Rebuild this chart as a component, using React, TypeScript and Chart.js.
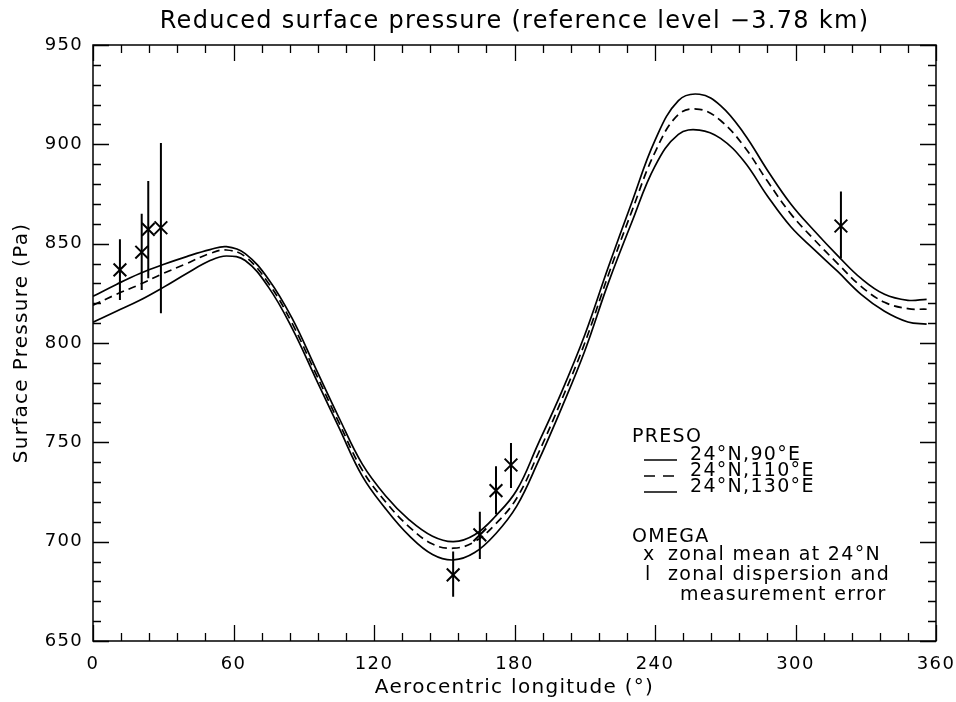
import React, { useEffect, useRef } from "react";
import { Chart, registerables } from "chart.js";

Chart.register(...registerables);

// ---------- text ----------
const TITLE = "Reduced surface pressure (reference level −3.78 km)";
const X_TITLE = "Aerocentric longitude (°)";
const Y_TITLE = "Surface Pressure (Pa)";
const LEGEND_PRESO_HEAD = "PRESO";
const LEGEND_PRESO = ["24°N,90°E", "24°N,110°E", "24°N,130°E"];
const LEGEND_OMEGA_HEAD = "OMEGA";
const LEGEND_OMEGA = ["zonal mean at 24°N", "zonal dispersion and", "measurement error"];

// ---------- axes ----------
const X_MIN = 0;
const X_MAX = 360;
const X_MAJOR = 60;
const X_MINOR = 12;
const Y_MIN = 650;
const Y_MAX = 950;
const Y_MAJOR = 50;
const Y_MINOR = 10;

// ---------- PRESO model curves ----------
const LON = [0, 10, 20, 30, 40, 50, 57, 65, 75, 85, 95, 105, 115, 125, 135, 145, 154, 163, 172, 181, 190, 200, 210, 220, 230, 240, 250, 259, 268, 278, 288, 298, 308, 318, 328, 338, 348, 356];
const PRESO_90E = [823.5, 829.5, 835, 839.5, 843.5, 847, 848.5, 845, 832, 812.5, 787.5, 762.5, 739, 723, 711, 702.7, 700, 703.5, 713, 726, 749, 775, 804, 838, 870.5, 902, 922, 925.2, 919.5, 905.5, 887, 870, 856.5, 844, 832.5, 824.5, 821.5, 822];
const PRESO_110E = [819, 824.5, 829.5, 835, 840, 845.1, 846.8, 843.5, 830, 810, 785, 760, 736, 720, 707.5, 698.8, 696.7, 700, 709, 722, 744, 771, 800, 834, 866, 896, 915, 917.6, 912, 899, 881.5, 865, 852, 840, 828.5, 820.5, 817.3, 817];
const PRESO_130E = [810.5, 816, 821.5, 828, 835, 841.5, 843.8, 841.5, 828, 807.5, 782.5, 757.5, 733, 716.5, 703, 693.5, 690.8, 694.5, 704, 718, 740, 767, 796, 830, 860.5, 889, 905, 907.2, 903, 891.5, 874, 858.5, 847, 836, 824.5, 816, 810.6, 809.5];

// ---------- OMEGA observations ----------
const OBS_LON = [11.5, 20.8, 23.6, 29, 153.8, 165.2, 172.1, 178.5, 319.4];
const OBS_MEAN = [836.8, 845.7, 857.2, 858, 683.3, 703.4, 725.7, 738.6, 858.9];
const OBS_LOW = [821.7, 826.7, 832.6, 815, 672.3, 691.3, 713.8, 727, 842.7];
const OBS_HIGH = [852.2, 865, 881.6, 900.7, 695, 715.1, 738, 749.7, 876.2];

const FONT = "'DejaVu Sans', 'Liberation Sans', sans-serif";
const LETTER_SPACING = "1.3px";

const toPoints = (xs: number[], ys: number[]) => xs.map((x, i) => ({ x, y: ys[i] }));

const spacingPlugin = {
  id: "letterSpacing",
  beforeLayout(chart: any) {
    chart.ctx.letterSpacing = LETTER_SPACING;
  },
  beforeDraw(chart: any) {
    const { ctx, width, height } = chart;
    ctx.letterSpacing = LETTER_SPACING;
    ctx.save();
    ctx.fillStyle = "#fff";
    ctx.fillRect(0, 0, width, height);
    ctx.restore();
  },
};

const framePlugin = {
  id: "frameTicks",
  afterDatasetsDraw(chart: any) {
    const { ctx, chartArea, scales } = chart;
    const { left, right, top, bottom } = chartArea;
    const xs = scales.x;
    const ys = scales.y;
    ctx.save();
    ctx.strokeStyle = "#000";
    ctx.lineWidth = 1.5;
    ctx.beginPath();
    ctx.rect(left, top, right - left, bottom - top);
    ctx.stroke();
    ctx.lineWidth = 1.3;
    ctx.beginPath();
    for (let v = X_MIN; v <= X_MAX + 1e-9; v += X_MINOR) {
      const px = Math.round(xs.getPixelForValue(v)) + 0.5;
      const len = v % X_MAJOR === 0 ? 16 : 8;
      ctx.moveTo(px, bottom);
      ctx.lineTo(px, bottom - len);
      ctx.moveTo(px, top);
      ctx.lineTo(px, top + len);
    }
    for (let v = Y_MIN; v <= Y_MAX + 1e-9; v += Y_MINOR) {
      const py = Math.round(ys.getPixelForValue(v)) + 0.5;
      const len = v % Y_MAJOR === 0 ? 16 : 8;
      ctx.moveTo(left, py);
      ctx.lineTo(left + len, py);
      ctx.moveTo(right, py);
      ctx.lineTo(right - len, py);
    }
    ctx.stroke();
    ctx.restore();
  },
};

const errorBarPlugin = {
  id: "errorBars",
  afterDatasetsDraw(chart: any) {
    const { ctx, scales } = chart;
    ctx.save();
    ctx.strokeStyle = "#000";
    ctx.lineWidth = 2;
    ctx.beginPath();
    OBS_LON.forEach((lon, i) => {
      const px = scales.x.getPixelForValue(lon);
      ctx.moveTo(px, scales.y.getPixelForValue(OBS_LOW[i]));
      ctx.lineTo(px, scales.y.getPixelForValue(OBS_HIGH[i]));
    });
    ctx.stroke();
    ctx.restore();
  },
};

const legendPlugin = {
  id: "customLegend",
  afterDraw(chart: any) {
    const { ctx } = chart;
    ctx.save();
    ctx.fillStyle = "#000";
    ctx.strokeStyle = "#000";
    ctx.textAlign = "left";
    ctx.textBaseline = "alphabetic";
    ctx.font = `19px ${FONT}`;
    ctx.fillText(LEGEND_PRESO_HEAD, 632, 442);
    const baselines = [460, 476, 492];
    LEGEND_PRESO.forEach((t, i) => {
      const y = baselines[i];
      ctx.lineWidth = 1.6;
      ctx.setLineDash(i === 1 ? [11, 8] : []);
      ctx.beginPath();
      ctx.moveTo(644, y);
      ctx.lineTo(677, y);
      ctx.stroke();
      ctx.setLineDash([]);
      ctx.fillText(t, 690, y);
    });
    ctx.fillText(LEGEND_OMEGA_HEAD, 632, 542);
    ctx.fillText("x", 643, 560);
    ctx.fillText(LEGEND_OMEGA[0], 668, 560);
    ctx.fillText("l", 645, 580);
    ctx.fillText(LEGEND_OMEGA[1], 668, 580);
    ctx.fillText(LEGEND_OMEGA[2], 680, 600);
    ctx.restore();
  },
};

export default function App() {
  const ref = useRef<HTMLCanvasElement | null>(null);

  useEffect(() => {
    if (!ref.current) return;
    const lineDs = (label: string, ys: number[], dash: number[]) => ({
      type: "scatter" as const,
      label,
      data: toPoints(LON, ys),
      showLine: true,
      borderColor: "#000",
      backgroundColor: "#000",
      borderWidth: 1.7,
      borderDash: dash,
      pointRadius: 0,
      tension: 0.4,
      fill: false,
    });
    const chart = new Chart(ref.current, {
      type: "scatter",
      data: {
        datasets: [
          lineDs(LEGEND_PRESO[0], PRESO_90E, []),
          lineDs(LEGEND_PRESO[1], PRESO_110E, [8, 5]),
          lineDs(LEGEND_PRESO[2], PRESO_130E, []),
          {
            type: "scatter",
            label: LEGEND_OMEGA[0],
            data: toPoints(OBS_LON, OBS_MEAN),
            pointStyle: "crossRot",
            pointRadius: 9,
            borderColor: "#000",
            backgroundColor: "#000",
            borderWidth: 2,
          } as any,
        ],
      },
      options: {
        responsive: false,
        animation: false,
        devicePixelRatio: 1,
        events: [],
        layout: { padding: { left: 0, right: 20, top: 0, bottom: 0 } },
        plugins: {
          legend: { display: false },
          tooltip: { enabled: false },
          title: {
            display: true,
            fullSize: false,
            text: TITLE,
            color: "#000",
            font: { family: FONT, size: 24, weight: "normal" },
            padding: { top: 7, bottom: 9.2 },
          },
        },
        scales: {
          x: {
            type: "linear",
            min: X_MIN,
            max: X_MAX,
            ticks: {
              stepSize: X_MAJOR,
              color: "#000",
              font: { family: FONT, size: 18 },
              padding: 13,
              maxRotation: 0,
            },
            grid: { display: false, drawTicks: false },
            border: { display: false },
            title: {
              display: true,
              text: X_TITLE,
              color: "#000",
              font: { family: FONT, size: 20 },
              padding: { top: 0, bottom: 2 },
            },
            afterFit: (s: any) => {
              s.height = 61;
              s.paddingLeft = 0;
              s.paddingRight = 0;
            },
          },
          y: {
            type: "linear",
            min: Y_MIN,
            max: Y_MAX,
            ticks: {
              stepSize: Y_MAJOR,
              color: "#000",
              font: { family: FONT, size: 18 },
              padding: 10,
            },
            grid: { display: false, drawTicks: false },
            border: { display: false },
            title: {
              display: true,
              text: Y_TITLE,
              color: "#000",
              font: { family: FONT, size: 20 },
              padding: { top: 10, bottom: 0 },
            },
            afterFit: (s: any) => {
              s.width = 93;
              s.paddingTop = 0;
              s.paddingBottom = 0;
            },
          },
        },
      } as any,
      plugins: [spacingPlugin, framePlugin, errorBarPlugin, legendPlugin],
    });
    return () => chart.destroy();
  }, []);

  return (
    <div style={{ position: "absolute", left: 0, top: 0, width: 956, height: 702 }}>
      <canvas ref={ref} width={956} height={702} style={{ display: "block", width: 956, height: 702 }} />
    </div>
  );
}
